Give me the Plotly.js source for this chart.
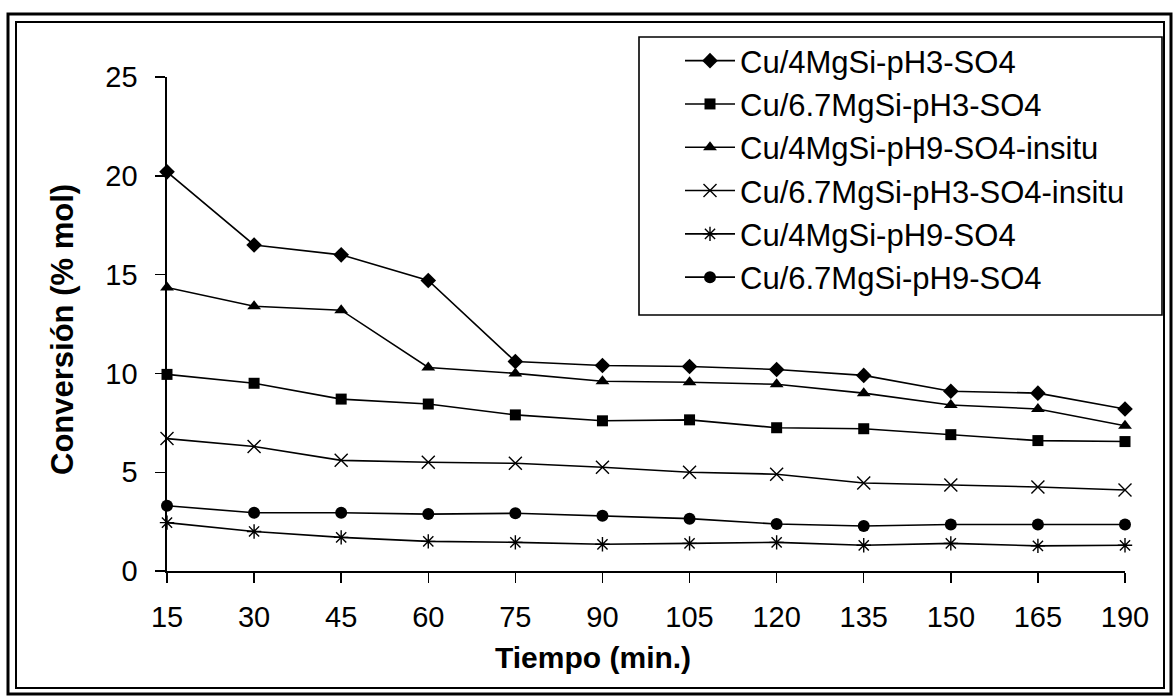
<!DOCTYPE html>
<html>
<head>
<meta charset="utf-8">
<script src="https://cdn.plot.ly/plotly-3.0.1.min.js"></script>
<style>
  html, body { margin: 0; padding: 0; background: #fff; }
  #chart { width: 1174px; height: 696px; }
</style>
</head>
<body>
<div id="chart"></div>
<script>
// ---- Data ----
const tiempo = ["15", "30", "45", "60", "75", "90", "105", "120", "135", "150", "165", "190"];

const s_4Mg_pH3 = [20.2, 16.5, 16.0, 14.7, 10.6, 10.4, 10.35, 10.2, 9.9, 9.1, 9.0, 8.2];
const s_67Mg_pH3 = [9.95, 9.5, 8.7, 8.45, 7.9, 7.6, 7.65, 7.25, 7.2, 6.9, 6.6, 6.55];
const s_4Mg_pH9_insitu = [14.35, 13.4, 13.2, 10.3, 10.0, 9.6, 9.55, 9.45, 9.0, 8.4, 8.2, 7.35];
const s_67Mg_pH3_insitu = [6.7, 6.3, 5.6, 5.5, 5.45, 5.25, 5.0, 4.9, 4.45, 4.35, 4.25, 4.1];
const s_4Mg_pH9 = [2.45, 2.0, 1.7, 1.5, 1.45, 1.35, 1.4, 1.45, 1.3, 1.4, 1.27, 1.3];
const s_67Mg_pH9 = [3.3, 2.95, 2.95, 2.88, 2.92, 2.8, 2.65, 2.38, 2.28, 2.35, 2.35, 2.35];

const seriesNames = [
  "Cu/4MgSi-pH3-SO4",
  "Cu/6.7MgSi-pH3-SO4",
  "Cu/4MgSi-pH9-SO4-insitu",
  "Cu/6.7MgSi-pH3-SO4-insitu",
  "Cu/4MgSi-pH9-SO4",
  "Cu/6.7MgSi-pH9-SO4"
];
const seriesValues = [s_4Mg_pH3, s_67Mg_pH3, s_4Mg_pH9_insitu, s_67Mg_pH3_insitu, s_4Mg_pH9, s_67Mg_pH9];

const yTitle = "Conversión (% mol)";
const xTitle = "Tiempo (min.)";

// ---- Styling ----
const FONT = "Liberation Sans, Arial, Helvetica, sans-serif";
const symbols = ["diamond", "square", "triangle-up", "x-thin-open", "asterisk-open", "circle"];
const sizes = [12, 11, 12, 13, 12, 12];

// plot area in pixels
const W = 1174, H = 696;
const L = 167, R = 1125, T = 77, B = 571;
const px = v => (v - L) / (R - L);
const py = v => (B - v) / (B - T);

const traces = seriesNames.map((name, i) => ({
  type: "scatter",
  mode: "lines+markers",
  name: name,
  legendgroup: "g" + i,
  x: tiempo,
  y: seriesValues[i],
  cliponaxis: false,
  line: { color: "#000", width: 1.6 },
  marker: {
    symbol: symbols[i],
    size: sizes[i],
    color: "#000",
    line: { color: "#000", width: (i === 3 || i === 4) ? 1.4 : 0 }
  }
}));

const layout = {
  width: W,
  height: H,
  paper_bgcolor: "#fff",
  plot_bgcolor: "#fff",
  margin: { l: L, r: W - R, t: T, b: H - B, pad: 0 },
  font: { family: FONT, color: "#000", size: 29 },
  showlegend: true,
  legend: {
    x: px(680),
    y: py(34),
    xanchor: "left",
    yanchor: "top",
    bgcolor: "rgba(0,0,0,0)",
    borderwidth: 0,
    font: { family: FONT, size: 31, color: "#000" },
    itemwidth: 50,
    tracegroupgap: 15,
    traceorder: "normal"
  },
  xaxis: {
    type: "category",
    categoryorder: "array",
    categoryarray: tiempo,
    range: [0, tiempo.length - 1],
    showline: true,
    linecolor: "#000",
    linewidth: 1.6,
    showgrid: false,
    zeroline: false,
    ticks: "outside",
    ticklen: 10,
    tickwidth: 1.4,
    tickcolor: "#000",
    ticklabelstandoff: 10,
    tickfont: { family: FONT, size: 29, color: "#000" },
    fixedrange: true
  },
  yaxis: {
    range: [0, 25],
    dtick: 5,
    tick0: 0,
    showline: true,
    linecolor: "#000",
    linewidth: 1.6,
    showgrid: false,
    zeroline: false,
    ticks: "outside",
    ticklen: 10,
    tickwidth: 1.4,
    tickcolor: "#000",
    ticklabelstandoff: 12,
    tickfont: { family: FONT, size: 29, color: "#000" },
    fixedrange: true
  },
  annotations: [
    {
      text: "<b>" + yTitle + "</b>",
      xref: "paper", yref: "paper",
      x: px(62), y: py(330),
      xanchor: "center", yanchor: "middle",
      textangle: -90,
      showarrow: false,
      font: { family: FONT, size: 31, color: "#000" }
    },
    {
      text: "<b>" + xTitle + "</b>",
      xref: "paper", yref: "paper",
      x: px(593), y: py(657),
      xanchor: "center", yanchor: "middle",
      showarrow: false,
      font: { family: FONT, size: 30, color: "#000" }
    }
  ],
  shapes: [
    // outer frame (double border)
    { type: "rect", xref: "paper", yref: "paper",
      x0: px(8), x1: px(1171), y0: py(694), y1: py(14),
      line: { color: "#000", width: 3 }, fillcolor: "rgba(0,0,0,0)", layer: "below" },
    { type: "rect", xref: "paper", yref: "paper",
      x0: px(16), x1: px(1164), y0: py(688), y1: py(22),
      line: { color: "#000", width: 2 }, fillcolor: "rgba(0,0,0,0)", layer: "below" },
    // legend box
    { type: "rect", xref: "paper", yref: "paper",
      x0: px(639), x1: px(1162), y0: py(315), y1: py(37),
      line: { color: "#000", width: 1.6 }, fillcolor: "#fff", layer: "below" }
  ]
};

Plotly.newPlot("chart", traces, layout, { staticPlot: true, displayModeBar: false });
</script>
</body>
</html>
